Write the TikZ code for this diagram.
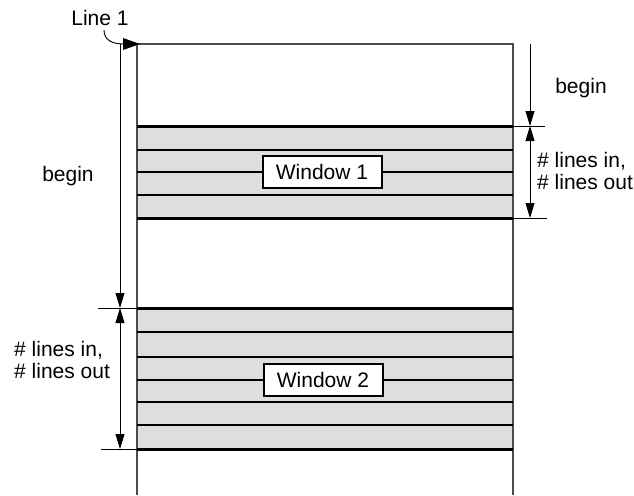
\documentclass[tikz,border=0pt]{standalone}
\usepackage{fontspec}
\setmainfont{Liberation Sans}
\usetikzlibrary{arrows.meta}
\begin{document}
\begin{tikzpicture}[x=1pt,y=-1pt,
  pageline/.style={draw=black!70, line width=1.1pt},
  winline/.style={draw=black, line width=1.8pt},
  edgeline/.style={draw=black, line width=3pt},
  tickline/.style={draw=black, line width=0.9pt},
  dimarrow/.style={draw=black, line width=0.9pt, -{Triangle[length=15pt,width=9pt]}},
  dimboth/.style={draw=black, line width=0.9pt, {Triangle[length=15pt,width=9pt]}-{Triangle[length=15pt,width=9pt]}},
  lbl/.style={font=\fontsize{21}{22}\selectfont, align=left, inner sep=0pt},
  winbox/.style={draw=black, line width=2pt, fill=white, minimum width=119pt, minimum height=32pt, inner sep=0pt, font=\fontsize{21}{24}\selectfont},
  band/.style={fill=black!13}
]
\useasboundingbox (0,0) rectangle (634,495);
% coordinates
\coordinate (ptl) at (137,44);
\coordinate (ptr) at (513,44);
\coordinate (pbl) at (137,495);
\coordinate (pbr) at (513,495);
% window bands
\fill[band] (137,126) rectangle (513,218);
\fill[band] (137,308) rectangle (513,449);
% page outline
\draw[pageline] (pbl) -- (ptl) -- (ptr) -- (pbr);
% window 1 lines
\draw[edgeline] (137,126) -- (513,126);
\draw[edgeline] (137,218) -- (513,218);
\foreach \yy in {150,172,195} \draw[winline] (137,\yy) -- (513,\yy);
% window 2 lines
\draw[edgeline] (137,308) -- (513,308);
\draw[edgeline] (137,449) -- (513,449);
\foreach \yy in {332,357,380,402,425} \draw[winline] (137,\yy) -- (513,\yy);
% window boxes
\node[winbox] (win1) at (322,172) {Window 1};
\node[winbox] (win2) at (323,380) {Window 2};
% Line 1 marker
\node[lbl] (line1) at (100,18) {Line 1};
\coordinate (l1a) at (104,30);
\coordinate (l1b) at (124,44);
\draw[tickline] (l1a) .. controls (104,40) and (112,44) .. (l1b);
\fill (123,38) -- (140,44) -- (123,50) -- cycle;
% left dimensions
\coordinate (la) at (120,44);
\coordinate (lb) at (120,308);
\coordinate (lc) at (120,449);
\coordinate (ltb0) at (98,308);
\coordinate (ltb1) at (137,308);
\coordinate (ltc0) at (101,449);
\coordinate (ltc1) at (137,449);
\draw[tickline] (ltb0) -- (ltb1);
\draw[tickline] (ltc0) -- (ltc1);
\draw[dimarrow] (la) -- (lb);
\draw[dimboth] (lb) -- (lc);
\node[lbl] (lbegin) at (68,176) {begin};
\node[lbl, anchor=west] (llines) at (14,360) {\# lines in,\\\# lines out};
% right dimensions
\coordinate (ra) at (530,44);
\coordinate (rb) at (530,126);
\coordinate (rc) at (530,218);
\coordinate (rtb0) at (513,126);
\coordinate (rtb1) at (545,126);
\coordinate (rtc0) at (513,218);
\coordinate (rtc1) at (547,218);
\draw[tickline] (rtb0) -- (rtb1);
\draw[tickline] (rtc0) -- (rtc1);
\draw[dimarrow] (ra) -- (rb);
\draw[dimboth] (rb) -- (rc);
\node[lbl] (rbegin) at (581,88) {begin};
\node[lbl, anchor=west] (rlines) at (537,171) {\# lines in,\\\# lines out};
\end{tikzpicture}
\end{document}
